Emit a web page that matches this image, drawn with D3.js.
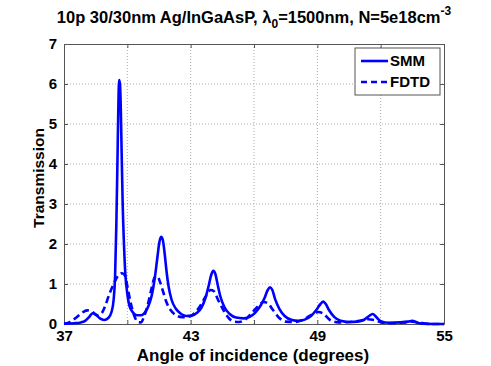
<!DOCTYPE html>
<html>
<head>
<meta charset="utf-8">
<script src="https://cdn.jsdelivr.net/npm/d3@7"></script>
<style>
  body { margin: 0; background: #fff; }
  text { font-family: "Liberation Sans", Arial, sans-serif; font-weight: bold; fill: #000; }
  .axis path, .axis line { stroke: #555; }
  .axis text { font-size: 15px; }
</style>
</head>
<body>
<div id="chart"></div>
<script>
// Chart data
const xTickLabels = [37, 43, 49, 55];
const xGridValues = [37, 40, 43, 46, 49, 52, 55];
const yTickValues = [0, 1, 2, 3, 4, 5, 6, 7];

const smmAngle = [37.0, 37.5, 37.8, 38.0, 38.2, 38.35, 38.5, 38.7, 38.9, 39.1, 39.25, 39.35, 39.42, 39.48, 39.53, 39.57, 39.61, 39.65, 39.69, 39.73, 39.78, 39.84, 39.9, 40.0, 40.1, 40.25, 40.45, 40.65, 40.85, 41.0, 41.15, 41.3, 41.42, 41.52, 41.6, 41.68, 41.76, 41.85, 41.95, 42.1, 42.3, 42.55, 42.8, 43.05, 43.3, 43.5, 43.7, 43.85, 43.97, 44.07, 44.17, 44.28, 44.4, 44.6, 44.85, 45.15, 45.5, 45.8, 46.05, 46.3, 46.5, 46.65, 46.76, 46.87, 47.0, 47.2, 47.45, 47.8, 48.1, 48.4, 48.7, 48.95, 49.15, 49.28, 49.4, 49.55, 49.8, 50.1, 50.5, 50.9, 51.2, 51.45, 51.62, 51.78, 52.0, 52.4, 52.9, 53.3, 53.5, 53.7, 54.0, 54.5, 55.0];
const smmT = [0.01, 0.02, 0.04, 0.08, 0.18, 0.27, 0.24, 0.14, 0.10, 0.15, 0.3, 0.6, 1.2, 2.5, 4.0, 5.3, 6.1, 6.0, 5.4, 4.3, 3.0, 2.0, 1.3, 0.75, 0.45, 0.3, 0.22, 0.22, 0.3, 0.45, 0.7, 1.15, 1.65, 2.05, 2.18, 2.1, 1.8, 1.35, 0.95, 0.6, 0.38, 0.25, 0.2, 0.21, 0.28, 0.4, 0.65, 0.95, 1.22, 1.33, 1.25, 0.98, 0.7, 0.42, 0.25, 0.16, 0.14, 0.18, 0.28, 0.45, 0.65, 0.85, 0.92, 0.85, 0.62, 0.38, 0.2, 0.1, 0.08, 0.11, 0.2, 0.35, 0.5, 0.56, 0.5, 0.35, 0.18, 0.08, 0.05, 0.06, 0.1, 0.2, 0.25, 0.18, 0.07, 0.03, 0.04, 0.06, 0.08, 0.04, 0.01, 0.0, 0.0];

const fdtdAngle = [37.0, 37.3, 37.6, 37.85, 38.1, 38.35, 38.55, 38.75, 38.95, 39.15, 39.35, 39.55, 39.75, 39.9, 40.0, 40.15, 40.3, 40.5, 40.65, 40.8, 41.0, 41.15, 41.3, 41.42, 41.55, 41.7, 41.85, 42.05, 42.3, 42.6, 42.9, 43.2, 43.45, 43.7, 43.95, 44.1, 44.3, 44.55, 44.8, 45.05, 45.3, 45.6, 45.9, 46.2, 46.45, 46.65, 46.9, 47.2, 47.5, 47.9, 48.3, 48.7, 49.05, 49.3, 49.6, 50.0, 50.5, 51.0, 51.4, 51.7, 52.1, 52.6, 53.1, 53.5, 53.9, 54.4, 55.0];
const fdtdT = [0.0, 0.05, 0.17, 0.28, 0.34, 0.3, 0.22, 0.25, 0.45, 0.75, 1.0, 1.2, 1.27, 1.2, 0.95, 0.55, 0.25, 0.05, 0.04, 0.2, 0.55, 0.9, 1.17, 1.2, 1.05, 0.8, 0.55, 0.35, 0.22, 0.17, 0.18, 0.28, 0.45, 0.68, 0.85, 0.82, 0.6, 0.35, 0.15, 0.06, 0.05, 0.12, 0.28, 0.45, 0.55, 0.52, 0.35, 0.15, 0.06, 0.05, 0.1, 0.22, 0.3, 0.25, 0.1, 0.04, 0.05, 0.08, 0.12, 0.1, 0.03, 0.02, 0.04, 0.06, 0.03, 0.0, 0.0];

const seriesNames = ["SMM", "FDTD"];

// SVG size and plot box
const svgWidth = 491;
const svgHeight = 366;
const margin = { top: 44, right: 47, bottom: 42, left: 64 };
const width = svgWidth - margin.left - margin.right;
const height = svgHeight - margin.top - margin.bottom;

const svg = d3.select("#chart")
  .append("svg")
  .attr("width", svgWidth)
  .attr("height", svgHeight);

svg.append("rect")
  .attr("width", svgWidth)
  .attr("height", svgHeight)
  .attr("fill", "#fff");

const g = svg.append("g")
  .attr("transform", `translate(${margin.left}, ${margin.top})`);

const x = d3.scaleLinear().domain([37, 55]).range([0, width]);
const y = d3.scaleLinear().domain([0, 7]).range([height, 0]);

// dotted grid
g.selectAll("line.xgrid")
  .data(xGridValues.slice(1, -1))
  .enter()
  .append("line")
  .attr("class", "xgrid")
  .attr("x1", d => x(d)).attr("x2", d => x(d))
  .attr("y1", 0).attr("y2", height)
  .attr("stroke", "#aaa")
  .attr("stroke-dasharray", "1,2");

g.selectAll("line.ygrid")
  .data(yTickValues.slice(1, -1))
  .enter()
  .append("line")
  .attr("class", "ygrid")
  .attr("x1", 0).attr("x2", width)
  .attr("y1", d => y(d)).attr("y2", d => y(d))
  .attr("stroke", "#aaa")
  .attr("stroke-dasharray", "1,2");

// axes, ticks pointing inward like matlab
const xFmt = d => xTickLabels.includes(d) ? d : "";

g.append("g")
  .attr("class", "axis")
  .attr("transform", `translate(0, ${height})`)
  .call(d3.axisBottom(x).tickValues(xGridValues).tickFormat(xFmt).tickSizeInner(-4).tickSizeOuter(0).tickPadding(6));

g.append("g")
  .attr("class", "axis")
  .call(d3.axisTop(x).tickValues(xGridValues).tickFormat("").tickSizeInner(-4).tickSizeOuter(0));

g.append("g")
  .attr("class", "axis")
  .call(d3.axisLeft(y).tickValues(yTickValues).tickFormat(d3.format("d")).tickSizeInner(-4).tickSizeOuter(0).tickPadding(7));

g.append("g")
  .attr("class", "axis")
  .attr("transform", `translate(${width}, 0)`)
  .call(d3.axisRight(y).tickValues(yTickValues).tickFormat("").tickSizeInner(-4).tickSizeOuter(0));

g.selectAll(".axis .domain").attr("stroke", "#555");

// lines
const smmData = smmAngle.map((a, i) => ({ a: a, t: smmT[i] }));
const fdtdData = fdtdAngle.map((a, i) => ({ a: a, t: fdtdT[i] }));

const line = d3.line()
  .x(d => x(d.a))
  .y(d => y(d.t))
  .curve(d3.curveMonotoneX);

g.append("path")
  .datum(fdtdData)
  .attr("fill", "none")
  .attr("stroke", "#0000ff")
  .attr("stroke-width", 2.6)
  .attr("stroke-dasharray", "7,4")
  .attr("d", line);

g.append("path")
  .datum(smmData)
  .attr("fill", "none")
  .attr("stroke", "#0000ff")
  .attr("stroke-width", 2.6)
  .attr("d", line);

// legend
const legend = svg.append("g").attr("transform", "translate(355, 48)");
legend.append("rect")
  .attr("width", 85).attr("height", 47)
  .attr("fill", "#fff").attr("stroke", "#555");

seriesNames.forEach((name, i) => {
  const ly = 13 + i * 21;
  legend.append("line")
    .attr("x1", 6).attr("x2", 33)
    .attr("y1", ly).attr("y2", ly)
    .attr("stroke", "#0000ff")
    .attr("stroke-width", 2.6)
    .attr("stroke-dasharray", i === 1 ? "6,4" : null);
  legend.append("text")
    .attr("x", 35).attr("y", ly + 5)
    .style("font-size", "15px")
    .text(name);
});

// title with sub/superscripts
const title = svg.append("text")
  .attr("x", 254).attr("y", 23)
  .attr("text-anchor", "middle")
  .style("font-size", "16.5px");
title.append("tspan").text("10p 30/30nm Ag/InGaAsP, λ");
title.append("tspan").attr("dy", 5).style("font-size", "12px").text("0");
title.append("tspan").attr("dy", -5).text("=1500nm, N=5e18cm");
title.append("tspan").attr("dy", -8).style("font-size", "12px").text("-3");

// axis labels
svg.append("text")
  .attr("x", 253).attr("y", 361)
  .attr("text-anchor", "middle")
  .style("font-size", "17px")
  .text("Angle of incidence (degrees)");

svg.append("text")
  .attr("transform", "rotate(-90)")
  .attr("x", -(margin.top + height / 2) + 6)
  .attr("y", 44)
  .attr("text-anchor", "middle")
  .style("font-size", "15.5px")
  .text("Transmission");
</script>
</body>
</html>
